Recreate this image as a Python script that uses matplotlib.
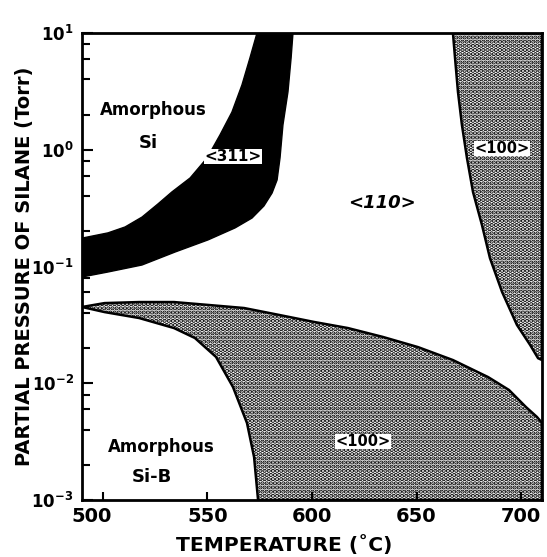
import numpy as np
import matplotlib
matplotlib.use('Agg')
import matplotlib.pyplot as plt
from matplotlib.ticker import LogLocator, NullFormatter
from matplotlib.transforms import ScaledTranslation

plt.rcParams['font.family'] = ['DejaVu Sans']
plt.rcParams['font.weight'] = 'bold'
plt.rcParams['axes.labelweight'] = 'bold'
plt.rcParams['mathtext.default'] = 'bf'
plt.rcParams['hatch.linewidth'] = 2.2

# axis limits
T_MIN, T_MAX = 490, 710
P_MIN, P_MAX = 1e-3, 1e1

# lower edge of the amorphous Si field (top of the <311> band)
si_upper_T = [490, 502.4, 510.6, 518.7, 526.3, 533.0, 541.7, 549.8, 556.0, 561.7, 566.5, 570.3, 573.7]
si_upper_p = [0.175, 0.194, 0.218, 0.265, 0.343, 0.435, 0.573, 0.85, 1.34, 2.10, 3.59, 6.1, 10]

# lower / right edge of the <311> band
b311_T = [490, 502.4, 518.7, 534.5, 550.3, 563.2, 571.3, 577.0, 580.9, 583.3, 584.7, 586.1, 588.5, 590.0, 590.9]
b311_p = [0.0813, 0.0897, 0.103, 0.133, 0.169, 0.214, 0.260, 0.330, 0.426, 0.551, 0.85, 1.63, 3.13, 6.1, 10]

# left edge of the <100> field at high pressure
r100_T = [667.4, 668.4, 669.8, 671.7, 674.1, 677.0, 681.3, 685.1, 690.9, 698.0, 704.3, 708.1, 710]
r100_p = [10, 6.1, 3.13, 1.63, 0.85, 0.434, 0.226, 0.118, 0.0605, 0.0316, 0.0213, 0.0164, 0.0158]

# upper edge of the <100> field at low pressure
b100_T = [490, 500.8, 517.3, 534.0, 550.7, 567.5, 584.2, 601.0, 617.2, 634.0, 650.7, 667.4, 684.2, 694.2, 702.3, 707.6, 710]
b100_p = [0.0450, 0.0486, 0.0496, 0.0496, 0.0468, 0.0441, 0.0385, 0.0335, 0.0297, 0.0249, 0.0204, 0.0158,
          0.0113, 0.00876, 0.00626, 0.00514, 0.00457]

# edge of the amorphous Si-B field
siB_T = [490, 500.8, 517.3, 534.0, 544.0, 554.1, 562.2, 568.9, 572.3, 574.2]
siB_p = [0.0450, 0.0407, 0.0362, 0.0297, 0.0244, 0.0168, 0.00929, 0.00457, 0.00233, 0.001]

x_ticks = [500, 550, 600, 650, 700]

fig = plt.figure(figsize=(5.47, 5.57), dpi=100)
ax = fig.add_axes([0.1499, 0.1023, 0.8410, 0.8385])
ax.set_yscale('log')

# <311> band
band_T = si_upper_T + b311_T[::-1]
band_p = si_upper_p + b311_p[::-1]
ax.fill(band_T, band_p, facecolor='black', edgecolor='black', linewidth=1)

# <100> high pressure
ax.fill(r100_T + [T_MAX], r100_p + [P_MAX], facecolor='white', edgecolor='black',
        hatch='....', linewidth=1.8)

# <100> low pressure
ax.fill(b100_T + [T_MAX] + siB_T[::-1], b100_p + [P_MIN] + siB_p[::-1],
        facecolor='white', edgecolor='black', hatch='....', linewidth=1.8)

# labels
box = dict(boxstyle='square,pad=0.0', facecolor='white', edgecolor='none')
ax.text(524, 2.19, 'Amorphous', ha='center', va='center', fontsize=12)
ax.text(521.6, 1.14, 'Si', ha='center', va='center', fontsize=13)
ax.text(562.2, 0.867, '<311>', ha='center', va='center', fontsize=11, bbox=box)
ax.text(633.5, 0.35, '<110>', ha='center', va='center', fontsize=13, style='italic')
ax.text(690.9, 1.03, '<100>', ha='center', va='center', fontsize=10.5, bbox=box)
ax.text(624.4, 0.00314, '<100>', ha='center', va='center', fontsize=10.5, bbox=box)
ax.text(527.8, 0.00284, 'Amorphous', ha='center', va='center', fontsize=12)
ax.text(523.5, 0.00157, 'Si-B', ha='center', va='center', fontsize=13)

ax.set_xlim(T_MIN, T_MAX)
ax.set_ylim(P_MIN, P_MAX)
ax.set_xticks(x_ticks)
ax.set_xticklabels([str(t) for t in x_ticks])
ax.yaxis.set_major_locator(LogLocator(base=10, numticks=10))
ax.yaxis.set_minor_locator(LogLocator(base=10, subs=(2, 4, 6, 8), numticks=10))
ax.yaxis.set_minor_formatter(NullFormatter())

ax.tick_params(axis='x', direction='in', length=6, width=1.5, labelsize=14, pad=5)
ax.tick_params(axis='y', which='major', direction='in', length=8, width=1.5, labelsize=12, pad=6)
ax.tick_params(axis='y', which='minor', direction='in', length=6, width=1.5)
for s in ax.spines.values():
    s.set_linewidth(2)

# the "500" label sits at the corner in the original
lab0 = ax.get_xticklabels()[0]
lab0.set_transform(lab0.get_transform() + ScaledTranslation(-0.11, 0, fig.dpi_scale_trans))

ax.set_xlabel('TEMPERATURE (˚C)', fontsize=14.6)
ax.xaxis.set_label_coords(0.44, -0.075)
ax.set_ylabel('PARTIAL PRESSURE OF SILANE (Torr)', fontsize=14)
ax.yaxis.set_label_coords(-0.105, 0.5)

fig.savefig('out.png', dpi=100)
